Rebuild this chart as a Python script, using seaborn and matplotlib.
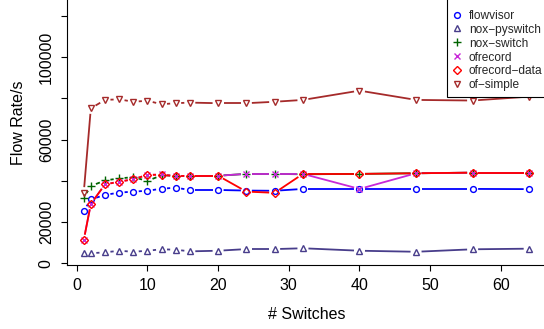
import numpy as np
import matplotlib
matplotlib.use("Agg")
import matplotlib.pyplot as plt
import seaborn as sns

# data
switches = [1, 2, 4, 6, 8, 10, 12, 14, 16, 20, 24, 28, 32, 40, 48, 56, 64]

flowvisor = [25400, 31000, 33200, 34300, 34800, 35200, 36200, 36700, 35600,
             35600, 35300, 35200, 36100, 36100, 36100, 36100, 36000]
nox_pyswitch = [4900, 4900, 5300, 6100, 5600, 6100, 6800, 6600, 5800,
                6100, 6900, 6900, 7300, 6100, 5600, 6800, 7100]
nox_switch = [31800, 37500, 40200, 41200, 41800, 40000, 42700, 42500, 42500,
              42500, 43400, 43400, 43200, 43400, 43700, 44000, 44000]
ofrecord = [11300, 28800, 38300, 39600, 40800, 42900, 43100, 42300, 42500,
            42500, 43400, 43400, 43400, 36100, 43700, 44000, 44000]
ofrecord_data = [11300, 28800, 38300, 39600, 40800, 42900, 43000, 42300, 42500,
                 42500, 34800, 34200, 43400, 43400, 43700, 44000, 44000]
of_simple = [34300, 75200, 79300, 79600, 78400, 78900, 77200, 77700, 78000,
             77700, 77700, 78400, 79300, 83800, 79300, 79000, 80900]

series_names = ["flowvisor", "nox\u2212pyswitch", "nox\u2212switch", "ofrecord",
                "ofrecord\u2212data", "of\u2212simple"]
series_values = [flowvisor, nox_pyswitch, nox_switch, ofrecord, ofrecord_data, of_simple]
colors = ["#0000FF", "#483D8B", "#006400", "#C828D8", "#FF0000", "#A52A2A"]
markers = ["o", "^", "+", "x", "D", "v"]
msizes = [4.2, 4.6, 6.0, 4.6, 4.0, 4.6]

y_ticks = [0, 20000, 40000, 60000, 80000, 100000, 120000]
y_ticklabels = ["0", "20000", "", "60000", "", "100000", ""]
x_ticks = [0, 10, 20, 30, 40, 50, 60]

sns.set_theme(style="white")
plt.rcParams["font.family"] = ["Liberation Sans", "DejaVu Sans"]

W, H = 544, 329
fig = plt.figure(figsize=(W / 100, H / 100), dpi=100)
# plot region: left 67px, bottom 265px, right 546px, top -20px (R style, cropped)
ax = fig.add_axes([67 / W, (H - 265) / H, (546 - 67) / W, (265 + 20) / H])
ax.set_xlim(-1.37, 66.38)
ax.set_ylim(-825, 137500)


def draw_gapped(ax, xs, ys, color, gap=5.5):
    # R type="b": line segments stop short of the points
    pts = ax.transData.transform(np.column_stack([xs, ys]))
    inv = ax.transData.inverted()
    for p0, p1 in zip(pts[:-1], pts[1:]):
        d = p1 - p0
        n = np.hypot(*d)
        if n <= 2 * gap:
            continue
        u = d / n
        a = inv.transform(p0 + u * gap)
        b = inv.transform(p1 - u * gap)
        ax.plot([a[0], b[0]], [a[1], b[1]], color=color, lw=1.3,
                solid_capstyle="butt", label="_nolegend_")


for name, vals, c, m, ms in zip(series_names, series_values, colors, markers, msizes):
    draw_gapped(ax, switches, vals, c)
    sns.lineplot(x=switches, y=vals, ax=ax, color=c, marker=m, markersize=ms,
                 markerfacecolor="none", markeredgecolor=c, markeredgewidth=1.0,
                 linestyle="none", label=name)

ax.set_xlim(-1.37, 66.38)
ax.set_ylim(-825, 137500)
ax.set_xticks(x_ticks)
ax.set_xticklabels([str(t) for t in x_ticks])
ax.set_yticks(y_ticks)
ax.set_yticklabels(y_ticklabels, rotation=90, va="center")

for side in ["top", "right"]:
    ax.spines[side].set_visible(False)
for side in ["left", "bottom"]:
    ax.spines[side].set_color("black")
    ax.spines[side].set_linewidth(0.8)

ax.tick_params(axis="both", direction="out", length=4.5, width=0.8, color="black",
               labelsize=11.5, labelcolor="black", left=True, bottom=True)
ax.tick_params(axis="x", pad=5)
ax.tick_params(axis="y", pad=5)

ax.set_xlabel("# Switches", fontsize=11.5, color="black", labelpad=10)
ax.set_ylabel("Flow Rate/s", fontsize=11.5, color="black", labelpad=9)

leg = ax.legend(loc="lower left", bbox_to_anchor=(446.7 / W, (H - 96.7) / H),
                bbox_transform=fig.transFigure, fontsize=8.6, title=" ",
                title_fontsize=8, frameon=True, fancybox=False, shadow=False,
                handlelength=0.8, handletextpad=0.6, labelspacing=0.16,
                borderpad=0.45, borderaxespad=0)
leg.get_frame().set_edgecolor("black")
leg.get_frame().set_linewidth(0.8)
leg.get_frame().set_facecolor("white")
leg.get_frame().set_alpha(1)

fig.savefig("out.png", dpi=100)
